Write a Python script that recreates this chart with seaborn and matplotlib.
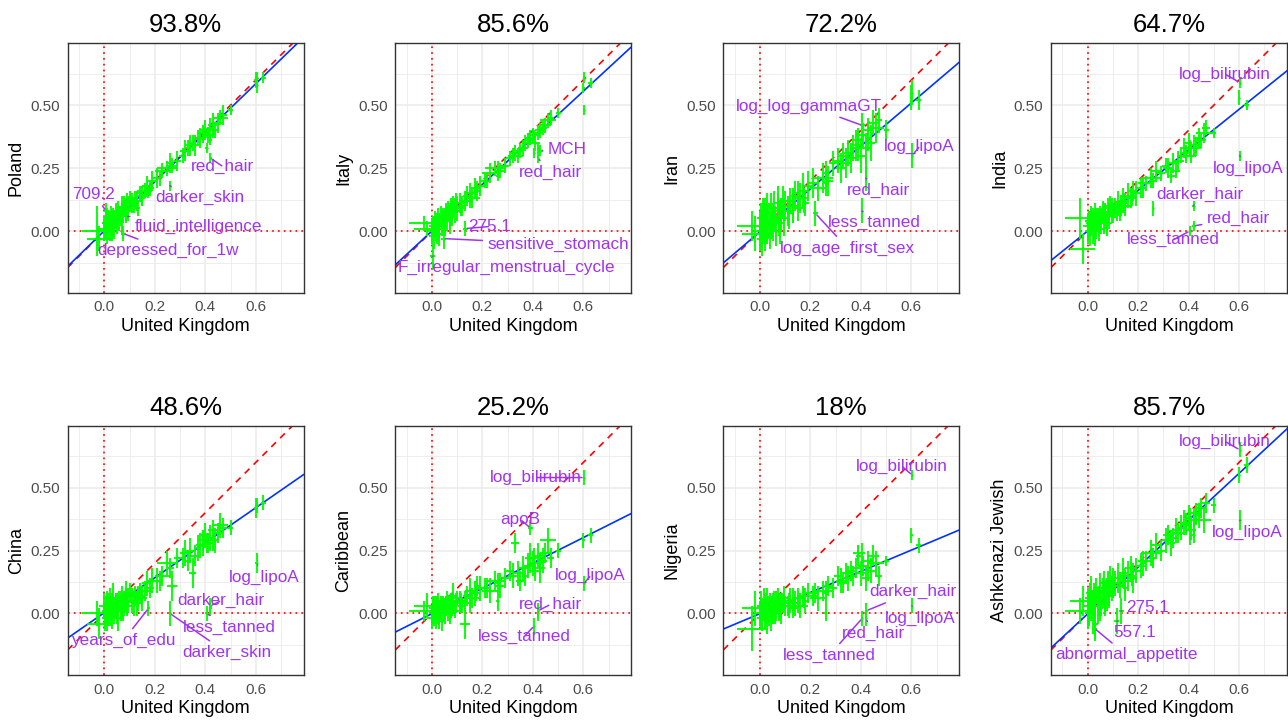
import matplotlib
matplotlib.use("Agg")
import matplotlib.pyplot as plt
import seaborn as sns
import numpy as np
import pandas as pd

# ---------------- data ----------------
countries = ["Poland", "Italy", "Iran", "India", "China", "Caribbean", "Nigeria", "Ashkenazi Jewish"]
titles = ["93.8%", "85.6%", "72.2%", "64.7%", "48.6%", "25.2%", "18%", "85.7%"]
fit_slope = [0.974, 0.926, 0.853, 0.806, 0.695, 0.504, 0.421, 0.931]
fit_intercept = [0.001, 0.0, -0.003, 0.0, 0.003, -0.001, -0.001, -0.002]

named_traits = ["red_hair", "less_tanned", "darker_hair", "darker_skin", "MCH", "log_log_gammaGT",
                "apoB", "log_age_first_sex", "years_of_edu", "fluid_intelligence", "depressed_for_1w",
                "709.2", "275.1", "sensitive_stomach", "F_irregular_menstrual_cycle", "557.1",
                "abnormal_appetite", "log_bilirubin", "log_lipoA"]

# UK estimates: 64 unlabelled traits followed by the 19 named traits
uk_other = [-0.03, -0.02, 0.00, 0.005, 0.01, 0.012, 0.015, 0.02, 0.022, 0.025, 0.03, 0.035, 0.04, 0.045,
            0.05, 0.055, 0.06, 0.065, 0.07, 0.075, 0.08, 0.085, 0.09, 0.095, 0.10, 0.03, 0.05, 0.07,
            0.11, 0.12, 0.13, 0.14, 0.15, 0.16, 0.17, 0.18, 0.19, 0.15,
            0.21, 0.23, 0.25, 0.26, 0.27, 0.29,
            0.31, 0.32, 0.33, 0.34, 0.35, 0.36, 0.37,
            0.38, 0.39, 0.40, 0.41, 0.42, 0.43, 0.44, 0.45, 0.46, 0.47,
            0.50, 0.60, 0.63]
uk_named = [0.42, 0.405, 0.42, 0.26, 0.43, 0.405, 0.39, 0.22, 0.175, 0.085, 0.075, 0.007, 0.133, 0.047,
            0.003, 0.116, 0.028, 0.603, 0.603]
uk_other_se = [0.06, 0.05, 0.02, 0.015, 0.02, 0.01, 0.02, 0.015, 0.01, 0.02, 0.015, 0.02, 0.01, 0.02,
               0.015, 0.02, 0.01, 0.02, 0.015, 0.02, 0.015, 0.02, 0.02, 0.015, 0.02, 0.01, 0.01, 0.01,
               0.02, 0.015, 0.02, 0.015, 0.02, 0.03, 0.02, 0.015, 0.02, 0.01,
               0.02, 0.03, 0.04, 0.015, 0.02, 0.015,
               0.015, 0.02, 0.015, 0.02, 0.015, 0.02, 0.015,
               0.015, 0.02, 0.015, 0.02, 0.015, 0.02, 0.015, 0.02, 0.03, 0.015,
               0.01, 0.005, 0.01]
uk_named_se = [0.005, 0.005, 0.005, 0.005, 0.01, 0.01, 0.01, 0.01, 0.005, 0.005, 0.01, 0.01, 0.01, 0.01,
               0.01, 0.01, 0.01, 0.005, 0.005]

poland_y = [0.00, -0.03, 0.01, 0.03, 0.00, 0.05, 0.02, 0.04, 0.01, 0.06, 0.03, 0.05, 0.02, 0.07, 0.04, 0.08,
            0.05, 0.06, 0.09, 0.07, 0.10, 0.08, 0.11, 0.09, 0.12, 0.01, 0.06, 0.04,
            0.11, 0.13, 0.12, 0.15, 0.14, 0.16, 0.18, 0.17, 0.20, 0.13,
            0.21, 0.24, 0.25, 0.27, 0.26, 0.28,
            0.30, 0.32, 0.33, 0.34, 0.35, 0.34, 0.37,
            0.37, 0.39, 0.40, 0.38, 0.41, 0.42, 0.40, 0.43, 0.45, 0.46,
            0.48, 0.60, 0.61,
            0.29, 0.33, 0.36, 0.18, 0.40, 0.39, 0.37, 0.21, 0.15, 0.06, -0.01, 0.08, 0.09, 0.04, 0.00, 0.10,
            0.02, 0.61, 0.58]
poland_se = [0.10, 0.05, 0.05, 0.04, 0.05, 0.04, 0.05, 0.04, 0.05, 0.04, 0.05, 0.04, 0.05, 0.04, 0.05, 0.04,
             0.05, 0.04, 0.05, 0.04, 0.04, 0.05, 0.04, 0.05, 0.04, 0.05, 0.04, 0.05,
             0.04, 0.03, 0.04, 0.03, 0.04, 0.03, 0.04, 0.03, 0.04, 0.03,
             0.04, 0.03, 0.03, 0.04, 0.03, 0.04,
             0.03, 0.04, 0.03, 0.04, 0.03, 0.04, 0.03,
             0.04, 0.03, 0.04, 0.03, 0.04, 0.05, 0.03, 0.04, 0.03, 0.04,
             0.02, 0.03, 0.02,
             0.02, 0.02, 0.02, 0.02, 0.02, 0.02, 0.02, 0.03, 0.02, 0.02, 0.03, 0.03, 0.03, 0.03, 0.03, 0.03,
             0.03, 0.02, 0.03]

italy_y = [0.03, 0.01, 0.00, 0.02, -0.02, 0.04, 0.01, 0.03, 0.00, 0.05, 0.02, 0.06, 0.03, 0.05, 0.04, 0.07,
           0.05, 0.08, 0.06, 0.09, 0.07, 0.10, 0.08, 0.11, 0.09, -0.01, 0.02, 0.04,
           0.11, 0.10, 0.12, 0.14, 0.15, 0.13, 0.17, 0.16, 0.18, 0.12,
           0.20, 0.23, 0.25, 0.25, 0.24, 0.26,
           0.29, 0.30, 0.31, 0.30, 0.32, 0.33, 0.35,
           0.36, 0.37, 0.38, 0.35, 0.39, 0.40, 0.41, 0.42, 0.44, 0.45,
           0.47, 0.57, 0.59,
           0.29, 0.31, 0.33, 0.22, 0.32, 0.38, 0.36, 0.20, 0.16, 0.08, 0.05, 0.02, 0.01, -0.03, -0.10, 0.09,
           0.02, 0.61, 0.48]
italy_se = [0.03, 0.03, 0.05, 0.04, 0.05, 0.04, 0.05, 0.04, 0.05, 0.04, 0.05, 0.04, 0.05, 0.04, 0.05, 0.04,
            0.05, 0.04, 0.05, 0.04, 0.05, 0.04, 0.05, 0.04, 0.05, 0.05, 0.04, 0.05,
            0.04, 0.04, 0.04, 0.04, 0.04, 0.04, 0.04, 0.04, 0.04, 0.03,
            0.03, 0.04, 0.03, 0.03, 0.03, 0.03,
            0.03, 0.03, 0.03, 0.03, 0.03, 0.03, 0.03,
            0.03, 0.03, 0.03, 0.03, 0.03, 0.03, 0.03, 0.03, 0.03, 0.03,
            0.02, 0.02, 0.02,
            0.02, 0.02, 0.02, 0.02, 0.02, 0.02, 0.02, 0.03, 0.02, 0.03, 0.03, 0.04, 0.03, 0.04, 0.05, 0.03,
            0.04, 0.02, 0.02]

iran_y = [0.02, -0.01, 0.00, 0.05, -0.03, 0.08, 0.03, -0.02, 0.06, 0.01, 0.10, 0.04, -0.01, 0.07, 0.02, 0.09,
          0.05, 0.00, 0.11, 0.06, 0.03, 0.08, 0.12, 0.05, 0.10, 0.02, 0.06, 0.09,
          0.08, 0.12, 0.10, 0.14, 0.09, 0.13, 0.16, 0.11, 0.18, 0.15,
          0.19, 0.17, 0.21, 0.23, 0.20, 0.27,
          0.28, 0.25, 0.30, 0.27, 0.31, 0.29, 0.33,
          0.34, 0.36, 0.30, 0.38, 0.33, 0.40, 0.35, 0.43, 0.41, 0.44,
          0.40, 0.53, 0.52,
          0.21, 0.08, 0.25, 0.19, 0.37, 0.42, 0.33, 0.07, 0.12, 0.06, 0.04, 0.01, 0.09, 0.03, 0.00, 0.07,
          0.02, 0.55, 0.30]
iran_se = [0.06, 0.07, 0.08, 0.06, 0.07, 0.05, 0.08, 0.06, 0.07, 0.06, 0.05, 0.07, 0.06, 0.08, 0.06, 0.07,
           0.05, 0.06, 0.07, 0.06, 0.08, 0.05, 0.06, 0.07, 0.06, 0.07, 0.05, 0.06,
           0.06, 0.05, 0.07, 0.06, 0.05, 0.06, 0.07, 0.05, 0.06, 0.05,
           0.06, 0.05, 0.06, 0.05, 0.06, 0.05,
           0.05, 0.06, 0.05, 0.06, 0.05, 0.06, 0.05,
           0.06, 0.05, 0.07, 0.05, 0.06, 0.05, 0.07, 0.05, 0.06, 0.05,
           0.04, 0.05, 0.04,
           0.05, 0.05, 0.05, 0.05, 0.05, 0.05, 0.05, 0.05, 0.05, 0.06, 0.06, 0.07, 0.06, 0.06, 0.07, 0.06,
           0.06, 0.05, 0.05]

india_y = [0.05, -0.07, 0.02, 0.04, 0.00, 0.06, 0.03, 0.01, 0.05, 0.02, 0.07, 0.03, 0.05, 0.01, 0.06, 0.04,
           0.08, 0.05, 0.07, 0.03, 0.09, 0.06, 0.10, 0.08, 0.07, 0.00, 0.04, 0.06,
           0.09, 0.11, 0.08, 0.12, 0.10, 0.14, 0.13, 0.16, 0.15, 0.11,
           0.17, 0.19, 0.21, 0.20, 0.24, 0.23,
           0.26, 0.25, 0.22, 0.27, 0.24, 0.28, 0.30,
           0.33, 0.31, 0.35, 0.30, 0.34, 0.33, 0.37, 0.36, 0.39, 0.41,
           0.39, 0.53, 0.50,
           0.02, 0.00, 0.10, 0.09, 0.34, 0.33, 0.30, 0.17, 0.13, 0.07, 0.03, 0.03, 0.10, 0.03, 0.00, 0.08,
           0.02, 0.59, 0.30]
india_se = [0.08, 0.06, 0.05, 0.04, 0.06, 0.04, 0.05, 0.06, 0.04, 0.05, 0.04, 0.06, 0.04, 0.05, 0.04, 0.05,
            0.04, 0.06, 0.04, 0.05, 0.04, 0.05, 0.04, 0.05, 0.04, 0.06, 0.04, 0.05,
            0.04, 0.05, 0.04, 0.05, 0.04, 0.05, 0.04, 0.04, 0.05, 0.04,
            0.04, 0.03, 0.04, 0.03, 0.04, 0.03,
            0.03, 0.04, 0.03, 0.04, 0.03, 0.04, 0.03,
            0.04, 0.03, 0.04, 0.03, 0.04, 0.03, 0.04, 0.03, 0.04, 0.03,
            0.02, 0.03, 0.02,
            0.02, 0.02, 0.02, 0.03, 0.03, 0.03, 0.03, 0.04, 0.03, 0.04, 0.04, 0.05, 0.04, 0.04, 0.05, 0.04,
            0.04, 0.02, 0.02]

china_y = [0.00, -0.04, 0.03, 0.01, -0.02, 0.05, 0.02, 0.00, 0.04, -0.01, 0.03, 0.06, 0.01, 0.04, 0.02, -0.02,
           0.05, 0.03, 0.06, 0.01, 0.04, 0.07, 0.03, 0.05, 0.08, 0.00, 0.03, 0.02,
           0.05, 0.07, 0.04, 0.08, 0.06, 0.09, 0.12, 0.10, 0.13, 0.07,
           0.13, 0.15, 0.20, 0.18, 0.11, 0.22,
           0.22, 0.24, 0.21, 0.25, 0.16, 0.23, 0.26,
           0.27, 0.29, 0.31, 0.28, 0.30, 0.33, 0.29, 0.32, 0.35, 0.34,
           0.34, 0.42, 0.44,
           0.02, 0.00, 0.03, 0.00, 0.29, 0.28, 0.27, 0.13, 0.02, 0.05, 0.03, 0.00, 0.06, 0.03, -0.02, 0.04,
           0.02, 0.43, 0.20]
china_se = [0.05, 0.06, 0.05, 0.06, 0.05, 0.04, 0.06, 0.05, 0.06, 0.04, 0.05, 0.06, 0.05, 0.04, 0.06, 0.05,
            0.04, 0.06, 0.05, 0.04, 0.05, 0.06, 0.04, 0.05, 0.04, 0.06, 0.05, 0.04,
            0.05, 0.04, 0.05, 0.04, 0.05, 0.04, 0.05, 0.04, 0.05, 0.04,
            0.05, 0.04, 0.05, 0.04, 0.06, 0.04,
            0.04, 0.05, 0.04, 0.05, 0.06, 0.04, 0.05,
            0.05, 0.04, 0.05, 0.04, 0.05, 0.04, 0.05, 0.04, 0.05, 0.04,
            0.03, 0.04, 0.03,
            0.03, 0.03, 0.03, 0.05, 0.04, 0.04, 0.04, 0.04, 0.03, 0.05, 0.05, 0.05, 0.05, 0.05, 0.05, 0.05,
            0.05, 0.03, 0.04]

caribbean_y = [0.01, 0.03, -0.02, 0.02, 0.00, 0.04, -0.01, 0.03, 0.01, 0.05, 0.00, 0.02, -0.03, 0.04, 0.01, 0.03,
               0.06, 0.02, 0.00, 0.05, 0.03, 0.07, 0.01, 0.04, 0.06, -0.01, 0.02, 0.03,
               0.05, 0.03, -0.04, 0.07, 0.09, 0.06, 0.08, 0.11, 0.10, 0.04,
               0.10, 0.09, 0.13, 0.12, 0.11, 0.14,
               0.17, 0.15, 0.28, 0.16, 0.13, 0.18, 0.15,
               0.19, 0.22, 0.20, 0.17, 0.23, 0.18, 0.21, 0.24, 0.29, 0.22,
               0.25, 0.29, 0.31,
               0.01, -0.05, 0.00, 0.05, 0.20, 0.22, 0.34, 0.10, 0.08, 0.04, 0.02, 0.00, 0.05, 0.01, 0.01, 0.04,
               0.00, 0.54, 0.12]
caribbean_se = [0.04, 0.05, 0.04, 0.05, 0.04, 0.03, 0.05, 0.04, 0.05, 0.03, 0.04, 0.05, 0.04, 0.03, 0.05, 0.04,
                0.03, 0.05, 0.04, 0.03, 0.04, 0.05, 0.03, 0.04, 0.03, 0.05, 0.04, 0.03,
                0.04, 0.03, 0.06, 0.04, 0.05, 0.04, 0.05, 0.04, 0.05, 0.04,
                0.04, 0.05, 0.04, 0.04, 0.05, 0.04,
                0.04, 0.05, 0.04, 0.05, 0.04, 0.05, 0.04,
                0.05, 0.06, 0.05, 0.04, 0.05, 0.06, 0.05, 0.04, 0.05, 0.04,
                0.03, 0.03, 0.03,
                0.03, 0.03, 0.03, 0.04, 0.04, 0.04, 0.03, 0.04, 0.03, 0.04, 0.04, 0.05, 0.04, 0.04, 0.05, 0.04,
                0.04, 0.03, 0.03]

nigeria_y = [-0.06, 0.02, 0.00, 0.03, -0.02, 0.01, 0.04, -0.01, 0.02, 0.00, 0.05, 0.01, 0.03, -0.03, 0.02, 0.04,
             0.00, 0.03, 0.05, 0.01, 0.03, 0.02, 0.04, 0.06, 0.03, -0.02, 0.01, 0.04,
             0.03, 0.05, 0.02, 0.04, 0.06, 0.03, 0.07, 0.05, 0.08, 0.04,
             0.07, 0.06, 0.09, 0.08, 0.11, 0.10,
             0.15, 0.13, 0.12, 0.16, 0.14, 0.17, 0.15,
             0.18, 0.24, 0.16, 0.19, 0.14, 0.21, 0.17, 0.23, 0.20, 0.15,
             0.21, 0.31, 0.27,
             -0.02, -0.02, 0.01, 0.00, 0.17, 0.24, 0.23, 0.08, 0.06, 0.03, 0.02, 0.00, 0.05, 0.02, 0.00, 0.03,
             0.01, 0.55, 0.03]
nigeria_se = [0.09, 0.07, 0.05, 0.06, 0.05, 0.04, 0.06, 0.05, 0.06, 0.04, 0.05, 0.06, 0.05, 0.04, 0.06, 0.05,
              0.04, 0.06, 0.05, 0.04, 0.05, 0.06, 0.04, 0.05, 0.04, 0.06, 0.05, 0.04,
              0.04, 0.05, 0.04, 0.05, 0.04, 0.05, 0.04, 0.05, 0.04, 0.04,
              0.04, 0.05, 0.04, 0.05, 0.04, 0.04,
              0.04, 0.05, 0.04, 0.04, 0.05, 0.04, 0.04,
              0.04, 0.03, 0.05, 0.04, 0.05, 0.04, 0.05, 0.04, 0.05, 0.04,
              0.02, 0.03, 0.03,
              0.03, 0.03, 0.03, 0.03, 0.04, 0.04, 0.04, 0.04, 0.04, 0.05, 0.05, 0.06, 0.05, 0.05, 0.06, 0.05,
              0.05, 0.02, 0.03]

ashkenazi_y = [0.01, 0.05, 0.03, 0.00, 0.06, 0.02, 0.08, 0.04, -0.02, 0.07, 0.05, 0.09, 0.03, 0.06, 0.10, 0.04,
               0.08, 0.12, 0.06, 0.09, 0.11, 0.07, 0.13, 0.10, 0.12, -0.04, 0.02, 0.05,
               0.12, 0.14, 0.11, 0.16, 0.13, 0.15, 0.18, 0.14, 0.17, 0.10,
               0.19, 0.21, 0.24, 0.22, 0.27, 0.25,
               0.29, 0.31, 0.28, 0.30, 0.33, 0.32, 0.34,
               0.36, 0.35, 0.38, 0.33, 0.37, 0.40, 0.39, 0.42, 0.37, 0.44,
               0.43, 0.55, 0.59,
               0.33, 0.30, 0.31, 0.22, 0.39, 0.38, 0.36, 0.20, 0.15, 0.08, 0.06, 0.02, 0.01, 0.04, 0.00, -0.03,
               -0.06, 0.65, 0.37]
ashkenazi_se = [0.05, 0.06, 0.07, 0.05, 0.06, 0.05, 0.07, 0.05, 0.06, 0.05, 0.06, 0.05, 0.07, 0.05, 0.06, 0.05,
                0.06, 0.05, 0.06, 0.05, 0.06, 0.05, 0.06, 0.05, 0.06, 0.06, 0.05, 0.06,
                0.05, 0.06, 0.05, 0.06, 0.05, 0.06, 0.05, 0.06, 0.05, 0.05,
                0.05, 0.04, 0.05, 0.04, 0.05, 0.04,
                0.05, 0.04, 0.05, 0.04, 0.05, 0.04, 0.05,
                0.05, 0.04, 0.05, 0.04, 0.05, 0.04, 0.05, 0.04, 0.05, 0.04,
                0.03, 0.03, 0.03,
                0.03, 0.03, 0.03, 0.04, 0.04, 0.04, 0.04, 0.05, 0.04, 0.05, 0.05, 0.06, 0.05, 0.05, 0.06, 0.05,
                0.05, 0.03, 0.04]

country_y = [poland_y, italy_y, iran_y, india_y, china_y, caribbean_y, nigeria_y, ashkenazi_y]
country_se = [poland_se, italy_se, iran_se, india_se, china_se, caribbean_se, nigeria_se, ashkenazi_se]

# label placement (text centre, data units) -- layout only
label_layout = {
    "Poland": [("red_hair", 0.47, 0.256), ("darker_skin", 0.379, 0.133), ("709.2", -0.041, 0.147),
               ("fluid_intelligence", 0.372, 0.018), ("depressed_for_1w", 0.253, -0.077)],
    "Italy": [("MCH", 0.534, 0.325), ("red_hair", 0.469, 0.233), ("275.1", 0.229, 0.018),
              ("sensitive_stomach", 0.499, -0.052), ("F_irregular_menstrual_cycle", 0.295, -0.144)],
    "Iran": [("log_log_gammaGT", 0.193, 0.497), ("log_lipoA", 0.633, 0.336), ("red_hair", 0.468, 0.16),
             ("less_tanned", 0.452, 0.034), ("log_age_first_sex", 0.347, -0.068)],
    "India": [("log_bilirubin", 0.544, 0.624), ("log_lipoA", 0.635, 0.25), ("darker_hair", 0.445, 0.147),
              ("red_hair", 0.596, 0.052), ("less_tanned", 0.339, -0.035)],
    "China": [("log_lipoA", 0.632, 0.144), ("darker_hair", 0.462, 0.05), ("less_tanned", 0.494, -0.054),
              ("years_of_edu", 0.075, -0.108), ("darker_skin", 0.484, -0.155)],
    "Caribbean": [("log_bilirubin", 0.412, 0.54), ("apoB", 0.352, 0.372), ("log_lipoA", 0.629, 0.15),
                  ("red_hair", 0.468, 0.035), ("less_tanned", 0.366, -0.091)],
    "Nigeria": [("log_bilirubin", 0.561, 0.586), ("darker_hair", 0.607, 0.087), ("log_lipoA", 0.637, -0.018),
                ("red_hair", 0.45, -0.08), ("less_tanned", 0.274, -0.167)],
    "Ashkenazi Jewish": [("log_bilirubin", 0.545, 0.683), ("log_lipoA", 0.633, 0.321), ("275.1", 0.238, 0.024),
                         ("557.1", 0.186, -0.074), ("abnormal_appetite", 0.153, -0.164)],
}

# ---------------- plotting ----------------
sns.set_theme(style="white")
plt.rcParams["font.family"] = ["Liberation Sans", "DejaVu Sans"]

GREEN = "#00FF00"
PURPLE = "#A033F0"
GRID = "#EBEBEB"

uk_x = uk_other + uk_named
uk_se = uk_other_se + uk_named_se
names = [""] * len(uk_other) + named_traits

W, H = 1288, 721
fig = plt.figure(figsize=(W / 100, H / 100), dpi=100)
lefts = [67.7, 395.3, 723.3, 1051.0]
tops = [43.3, 425.7]
aw, ah = 236.0, 249.4

for i, country in enumerate(countries):
    r, c = divmod(i, 4)
    ax = fig.add_axes([lefts[c] / W, 1 - (tops[r] + ah) / H, aw / W, ah / H])
    df = pd.DataFrame({"trait": names, "uk": uk_x, "uk_se": uk_se,
                       "val": country_y[i], "se": country_se[i]})
    assert len(df) == 83

    ax.set_xlim(-0.145, 0.79)
    ax.set_ylim(-0.245, 0.746)
    ax.set_xticks([0.0, 0.2, 0.4, 0.6])
    ax.set_xticklabels(["0.0", "0.2", "0.4", "0.6"])
    ax.set_yticks([0.0, 0.25, 0.5])
    ax.set_yticklabels(["0.00", "0.25", "0.50"])
    ax.set_xticks([-0.1, 0.1, 0.3, 0.5, 0.7], minor=True)
    ax.set_yticks([-0.125, 0.125, 0.375, 0.625], minor=True)
    ax.grid(True, which="major", color=GRID, lw=1.1, zorder=0)
    ax.grid(True, which="minor", color=GRID, lw=0.6, zorder=0)
    ax.set_axisbelow(True)
    ax.tick_params(which="minor", length=0)
    ax.tick_params(which="major", length=3.5, width=0.8, color="#333333",
                   labelsize=11, labelcolor="#4D4D4D", pad=2)
    for sp in ax.spines.values():
        sp.set_color("#333333")
        sp.set_linewidth(1.0)
        sp.set_visible(True)

    ax.axvline(0, color="red", ls=(0, (1, 2.5)), lw=1.2, zorder=1)
    ax.axhline(0, color="red", ls=(0, (1, 2.5)), lw=1.2, zorder=1)
    ax.axline((0, 0), slope=1, color="red", ls=(0, (4, 3.5)), lw=1.2, zorder=1)
    ax.axline((0, fit_intercept[i]), slope=fit_slope[i], color="#0033FF", lw=1.2, zorder=2)

    ax.errorbar(df["uk"], df["val"], xerr=df["uk_se"], yerr=df["se"], fmt="none",
                ecolor=GREEN, elinewidth=1.35, capsize=0, zorder=3)
    sns.scatterplot(data=df, x="uk", y="val", ax=ax, color=GREEN, s=3, linewidth=0,
                    legend=False, zorder=4)

    for name, tx, ty in label_layout[country]:
        row = df[df["trait"] == name].iloc[0]
        ax.annotate(name, xy=(row["uk"], row["val"]), xytext=(tx, ty), ha="center", va="center",
                    fontsize=12.3, color=PURPLE, zorder=6,
                    arrowprops=dict(arrowstyle="-", color=PURPLE, lw=1.1, shrinkA=1, shrinkB=1.5))

    ax.set_title(titles[i], fontsize=18.5, pad=8, color="black")
    ax.set_xlabel("United Kingdom", fontsize=13, labelpad=2.5, color="black")
    ax.set_ylabel(country, fontsize=13, labelpad=4, color="black")

fig.savefig("out.png", dpi=100)
